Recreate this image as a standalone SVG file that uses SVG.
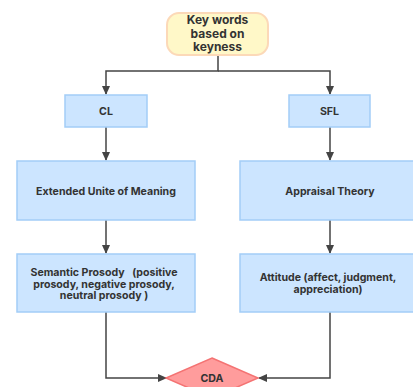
<svg xmlns="http://www.w3.org/2000/svg" width="413" height="387" viewBox="0 0 413 387">
<style>
.box{fill:#cce5ff;stroke:#a3cdf7;stroke-width:1.5}
.t{font-family:Inter,"Noto Sans",sans-serif;font-weight:bold;font-size:10.6px;fill:#333;text-anchor:middle}
.tt{font-family:Inter,"Noto Sans",sans-serif;font-weight:bold;font-size:12px;fill:#333;text-anchor:middle}
.c{fill:none;stroke:#444;stroke-width:1.5}
</style>
<defs>
<marker id="ah" markerWidth="10" markerHeight="10" refX="8" refY="5" orient="auto" markerUnits="userSpaceOnUse">
<path d="M0,1 L9,5 L0,9 Z" fill="#444"/>
</marker>
</defs>
<rect width="413" height="387" fill="#fff"/>
<g id="connectors">
<path class="c" d="M218,55 V71 H106 V94" marker-end="url(#ah)"/>
<path class="c" d="M218,71 H330 V94" marker-end="url(#ah)"/>
<path class="c" d="M106,127 V160" marker-end="url(#ah)"/>
<path class="c" d="M330,127 V160" marker-end="url(#ah)"/>
<path class="c" d="M106,220 V253" marker-end="url(#ah)"/>
<path class="c" d="M330,220 V253" marker-end="url(#ah)"/>
<path class="c" d="M106,312 V378 H166" marker-end="url(#ah)"/>
<path class="c" d="M330,312 V378 H259" marker-end="url(#ah)"/>
</g>
<g id="keywords">
<rect x="167" y="13" width="101" height="42" rx="12" fill="#fff8c8" stroke="#fcd9b8" stroke-width="2"/>
<text class="tt" x="217.5" y="24">Key words</text>
<text class="tt" x="217.5" y="37.5">based on</text>
<text class="tt" x="217.5" y="51">keyness</text>
</g>
<g id="cl">
<rect class="box" x="65" y="95" width="82" height="32"/>
<text class="t" x="106" y="115">CL</text>
</g>
<g id="sfl">
<rect class="box" x="289" y="95" width="81" height="32"/>
<text class="t" x="329.5" y="115">SFL</text>
</g>
<g id="eum">
<rect class="box" x="17" y="161" width="178" height="59"/>
<text class="t" x="106" y="195">Extended Unite of Meaning</text>
</g>
<g id="appraisal">
<rect class="box" x="240" y="161" width="178" height="59"/>
<text class="t" x="330" y="195">Appraisal Theory</text>
</g>
<g id="semantic">
<rect class="box" x="17" y="254" width="178" height="58"/>
<text class="t" x="104" y="276" xml:space="preserve">Semantic Prosody   (positive</text>
<text class="t" x="104" y="287.5">prosody, negative prosody,</text>
<text class="t" x="104" y="299">neutral prosody )</text>
</g>
<g id="attitude">
<rect class="box" x="240" y="254" width="178" height="58"/>
<text class="t" x="328" y="281">Attitude (affect, judgment,</text>
<text class="t" x="328" y="292.5">appreciation)</text>
</g>
<g id="cda">
<path d="M212,358 L258,378 L212,398 L166,378 Z" fill="#ff9c9c" stroke="#f47373" stroke-width="1.5"/>
<text class="t" x="212" y="382">CDA</text>
</g>
</svg>
